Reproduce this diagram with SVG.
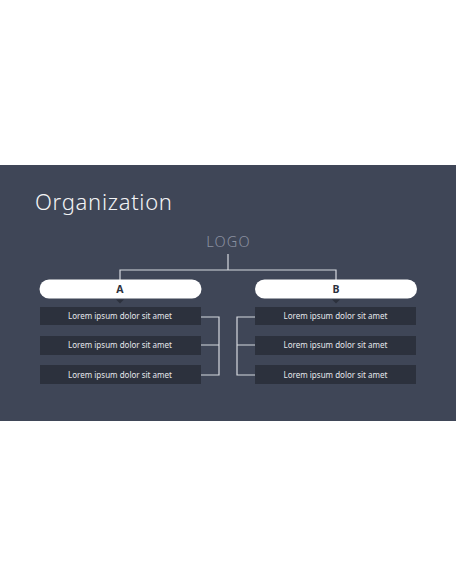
<svg xmlns="http://www.w3.org/2000/svg" width="456" height="586" viewBox="0 0 456 586">
<style>
.pill{fill:#ffffff}
.box{fill:#2c313d}
.ln{stroke:#d6d9df;stroke-width:1.2;fill:none}
.lt{font-family:"Noto Sans","Open Sans",sans-serif;font-size:8px;fill:#e6e8ec;text-anchor:middle}
.hd{font-family:"Noto Sans","Open Sans",sans-serif;font-size:10.5px;font-weight:bold;fill:#2c313d;text-anchor:middle}
</style>
<rect width="456" height="586" fill="#ffffff"/>
<rect x="0" y="165" width="456" height="256" fill="#3f4657"/>
<text x="35" y="210" font-family="'Noto Sans','Open Sans',sans-serif" font-size="22" font-weight="300" fill="#f2f3f5" letter-spacing="0.7">Organization</text>
<g id="logo"><text x="228.5" y="247" font-family="'Noto Sans','Open Sans',sans-serif" font-size="14.5" font-weight="300" fill="#8b91a1" text-anchor="middle" letter-spacing="1.2">LOGO</text></g>
<g id="connectors">
<path class="ln" d="M228 254V270M120 280V270H336V280"/>
<path class="ln" d="M201 317H219V375H201M201 345H219"/>
<path class="ln" d="M255 317H237V375H255M255 345H237"/>
<path d="M116 299.5H124L120 303.5Z" fill="#2c313d"/>
<path d="M332 299.5H340L336 303.5Z" fill="#2c313d"/>
</g>
<g id="A"><rect class="pill" x="39.5" y="279.5" width="162" height="19" rx="9.5"/><text class="hd" x="120" y="293">A</text></g>
<g id="B"><rect class="pill" x="255" y="279.5" width="162" height="19" rx="9.5"/><text class="hd" x="336" y="293">B</text></g>
<g id="A1"><rect class="box" x="40" y="307" width="161" height="18"/><text class="lt" x="120" y="318.8">Lorem ipsum dolor sit amet</text></g>
<g id="A2"><rect class="box" x="40" y="336" width="161" height="19"/><text class="lt" x="120" y="348.3">Lorem ipsum dolor sit amet</text></g>
<g id="A3"><rect class="box" x="40" y="365" width="161" height="19"/><text class="lt" x="120" y="377.8">Lorem ipsum dolor sit amet</text></g>
<g id="B1"><rect class="box" x="255" y="307" width="161" height="18"/><text class="lt" x="335.5" y="318.8">Lorem ipsum dolor sit amet</text></g>
<g id="B2"><rect class="box" x="255" y="336" width="161" height="19"/><text class="lt" x="335.5" y="348.3">Lorem ipsum dolor sit amet</text></g>
<g id="B3"><rect class="box" x="255" y="365" width="161" height="19"/><text class="lt" x="335.5" y="377.8">Lorem ipsum dolor sit amet</text></g>
</svg>
